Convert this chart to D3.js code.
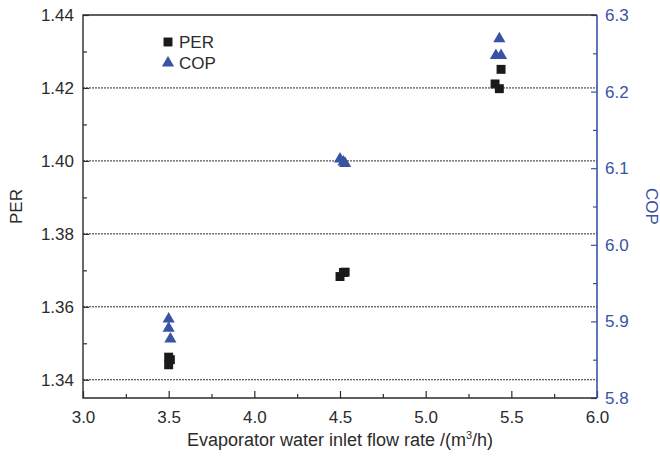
<!DOCTYPE html>
<html>
<head>
<meta charset="utf-8">
<script src="https://cdn.jsdelivr.net/npm/d3@7"></script>
<style>
  body { margin: 0; background: #fff; }
  svg text { font-family: "Liberation Sans", Arial, sans-serif; }
</style>
</head>
<body>
<div id="chart"></div>
<script>
// PER measurements (left axis)
const perFlow = [3.50, 3.51, 3.50, 4.50, 4.52, 4.53, 5.44, 5.405, 5.43];
const perValue = [1.3462, 1.3455, 1.3441, 1.3683, 1.3694, 1.3695, 1.4251, 1.4211, 1.4198];
// COP measurements (right axis)
const copFlow = [3.50, 3.50, 3.51, 4.50, 4.52, 4.53, 5.43, 5.41, 5.44];
const copValue = [5.903, 5.891, 5.877, 6.112, 6.108, 6.106, 6.269, 6.247, 6.247];

const xTicks = [3.0, 3.5, 4.0, 4.5, 5.0, 5.5, 6.0];
const perTicks = [1.34, 1.36, 1.38, 1.40, 1.42, 1.44];
const copTicks = [5.8, 5.9, 6.0, 6.1, 6.2, 6.3];

const width = 660, height = 460;
const margin = {left: 83, right: 63, top: 15, bottom: 62};
const blue = '#3953a4';
const dark = '#2b2b2b';
const fontSize = '17px';

const svg = d3.select('#chart').append('svg')
  .attr('width', width)
  .attr('height', height);

const x = d3.scaleLinear().domain([3.0, 6.0]).range([margin.left, width - margin.right]);
const yPer = d3.scaleLinear().domain([1.335, 1.44]).range([height - margin.bottom, margin.top]);
const yCop = d3.scaleLinear().domain([5.8, 6.3]).range([height - margin.bottom, margin.top]);

// gridlines at the PER ticks
svg.append('g')
  .selectAll('line')
  .data(perTicks.slice(0, -1))
  .enter()
  .append('line')
  .attr('x1', margin.left)
  .attr('x2', width - margin.right)
  .attr('y1', d => yPer(d))
  .attr('y2', d => yPer(d))
  .attr('stroke', dark)
  .attr('stroke-width', 1)
  .attr('stroke-dasharray', '2,1');

const styleAxis = (g, color) => {
  g.selectAll('.domain').remove();
  g.selectAll('line').attr('stroke', color).attr('stroke-width', 1.2);
  g.selectAll('text').attr('fill', color).style('font-size', fontSize);
};

// minor ticks first (no labels)
const bottom = height - margin.bottom;
svg.append('g')
  .attr('transform', `translate(0,${bottom})`)
  .call(d3.axisTop(x).tickValues(d3.range(3.25, 6, 0.5)).tickSize(4).tickFormat(''))
  .call(g => styleAxis(g, dark));
svg.append('g')
  .attr('transform', `translate(0,${bottom})`)
  .call(d3.axisTop(x).tickValues(xTicks).tickSize(7).tickFormat(d3.format('.1f')))
  .call(g => styleAxis(g, dark))
  .call(g => g.selectAll('text').attr('y', 20).attr('dy', '0.32em'));

svg.append('g')
  .attr('transform', `translate(${margin.left},0)`)
  .call(d3.axisRight(yPer).tickValues([1.35, 1.37, 1.39, 1.41, 1.43]).tickSize(4).tickFormat(''))
  .call(g => styleAxis(g, dark));
svg.append('g')
  .attr('transform', `translate(${margin.left},0)`)
  .call(d3.axisRight(yPer).tickValues(perTicks).tickSize(6).tickFormat(d3.format('.2f')))
  .call(g => styleAxis(g, dark))
  .call(g => g.selectAll('text').attr('x', -9).attr('text-anchor', 'end'));

const right = width - margin.right;
svg.append('g')
  .attr('transform', `translate(${right},0)`)
  .call(d3.axisLeft(yCop).tickValues([5.85, 5.95, 6.05, 6.15, 6.25]).tickSize(4).tickFormat(''))
  .call(g => styleAxis(g, blue));
svg.append('g')
  .attr('transform', `translate(${right},0)`)
  .call(d3.axisLeft(yCop).tickValues(copTicks).tickSize(6).tickFormat(d3.format('.1f')))
  .call(g => styleAxis(g, blue))
  .call(g => g.selectAll('text').attr('x', 8).attr('text-anchor', 'start'));

// frame
svg.append('path')
  .attr('d', `M${right},${margin.top}H${margin.left}V${bottom}H${right}`)
  .attr('fill', 'none')
  .attr('stroke', dark)
  .attr('stroke-width', 1.4);
svg.append('line')
  .attr('x1', right).attr('x2', right)
  .attr('y1', margin.top).attr('y2', bottom)
  .attr('stroke', blue)
  .attr('stroke-width', 1.6);

// axis titles
svg.append('text')
  .attr('transform', `translate(22,${(margin.top + bottom) / 2}) rotate(-90)`)
  .attr('text-anchor', 'middle')
  .attr('fill', dark)
  .style('font-size', fontSize)
  .text('PER');
svg.append('text')
  .attr('transform', `translate(646,${(margin.top + bottom) / 2}) rotate(90)`)
  .attr('text-anchor', 'middle')
  .attr('fill', blue)
  .style('font-size', fontSize)
  .text('COP');
const xTitle = svg.append('text')
  .attr('x', (margin.left + right) / 2)
  .attr('y', 446)
  .attr('text-anchor', 'middle')
  .attr('fill', dark)
  .style('font-size', '18px');
xTitle.append('tspan').text('Evaporator water inlet flow rate /(m');
xTitle.append('tspan').attr('dy', -7).style('font-size', '11px').text('3');
xTitle.append('tspan').attr('dy', 7).text('/h)');

// markers
const square = d3.symbol().type(d3.symbolSquare).size(80);
const triangle = d3.symbol().type(d3.symbolTriangle).size(64);

svg.append('g')
  .selectAll('path')
  .data(perFlow.map((f, i) => [f, perValue[i]]))
  .enter()
  .append('path')
  .attr('d', square)
  .attr('transform', d => `translate(${x(d[0])},${yPer(d[1])})`)
  .attr('fill', '#1a1a1a');

svg.append('g')
  .selectAll('path')
  .data(copFlow.map((f, i) => [f, copValue[i]]))
  .enter()
  .append('path')
  .attr('d', triangle)
  .attr('transform', d => `translate(${x(d[0])},${yCop(d[1])})`)
  .attr('fill', blue);

// legend
const legend = svg.append('g').attr('transform', 'translate(168,42)');
legend.append('path').attr('d', square).attr('fill', '#1a1a1a');
legend.append('text').attr('x', 11).attr('y', 0).attr('dy', '0.35em')
  .style('font-size', fontSize).attr('fill', dark).text('PER');
legend.append('path').attr('d', triangle).attr('transform', 'translate(0,21)').attr('fill', blue);
legend.append('text').attr('x', 11).attr('y', 21).attr('dy', '0.35em')
  .style('font-size', fontSize).attr('fill', dark).text('COP');
</script>
</body>
</html>
